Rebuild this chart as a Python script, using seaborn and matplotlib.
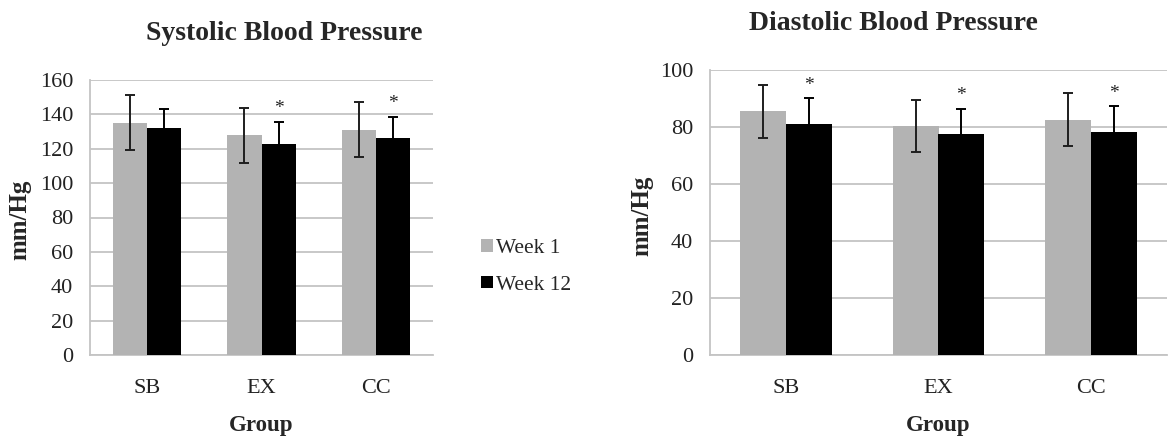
import numpy as np
import pandas as pd
import seaborn as sns
import matplotlib.pyplot as plt
from matplotlib.patches import Patch

groups = ["SB", "EX", "CC"]
weeks = ["Week 1", "Week 12"]

# systolic, mean and SD per group
sys_week1 = [135, 128, 131]
sys_week12 = [132, 123, 126]
sys_sd_week1 = [16, 16, 16]
sys_sd_week12 = [11, 12.5, 12.5]
sys_sig = [False, True, True]

# diastolic
dia_week1 = [85.6, 80.4, 82.5]
dia_week12 = [81.1, 77.4, 78.1]
dia_sd_week1 = [9.3, 9.2, 9.3]
dia_sd_week12 = [9.1, 9.0, 9.1]
dia_sig = [True, True, True]

colors = ["#b3b3b3", "#000000"]
err_colors = ["#1e1e1e", "#000000"]
grid_c = "#c4c4c4"

sns.set_style("white")
plt.rcParams["font.family"] = ["Liberation Serif", "DejaVu Serif"]


def make_df(w1, w12, sd1, sd12):
    return pd.DataFrame({
        "group": groups * 2,
        "week": [weeks[0]] * 3 + [weeks[1]] * 3,
        "mean": w1 + w12,
        "sd": sd1 + sd12,
    })


def draw_panel(ax, df, sig, ymax, step, star_off):
    sns.barplot(data=df, x="group", y="mean", hue="week", palette=colors,
                width=0.6, errorbar=None, linewidth=0, ax=ax, zorder=3)
    # error bars centred on each bar
    for cont, wk, ec in zip(ax.containers, weeks, err_colors):
        sub = df[df["week"] == wk]
        xs = [b.get_x() + b.get_width() / 2 for b in cont]
        ax.errorbar(xs, sub["mean"], yerr=sub["sd"], fmt="none",
                    ecolor=ec, elinewidth=1.4, capsize=3.5,
                    capthick=1.4, zorder=4)
        if wk == weeks[1]:
            tops = (sub["mean"] + sub["sd"]).to_numpy()
            for x, t, s in zip(xs, tops, sig):
                if s:
                    ax.text(x, t + star_off, "*", ha="center", va="center",
                            fontsize=14, color="#222222")
    ax.get_legend().remove()
    ax.set_ylim(0, ymax)
    ax.set_xlim(-0.5, 2.5)
    ax.set_yticks(np.arange(0, ymax + 1, step))
    ax.yaxis.grid(True, color=grid_c, lw=1.3)
    ax.set_axisbelow(True)
    for s in ["top", "right"]:
        ax.spines[s].set_visible(False)
    for s in ["left", "bottom"]:
        ax.spines[s].set_color(grid_c)
        ax.spines[s].set_linewidth(1.3)
    ax.tick_params(axis="y", length=3, color=grid_c, width=1.3, pad=9,
                   labelsize=16, labelcolor="#222222")
    ax.tick_params(axis="x", which="major", length=0, pad=17,
                   labelsize=16, labelcolor="#222222")
    ax.set_xticks([-0.5, 0.5, 1.5, 2.5], minor=True)
    ax.tick_params(axis="x", which="minor", length=5, color=grid_c,
                   width=1.3, direction="out")


fig = plt.figure(figsize=(11.68, 4.42), dpi=100)
ax1 = fig.add_axes([90 / 1168, 1 - 355 / 442, 343 / 1168, 275 / 442])
ax2 = fig.add_axes([710 / 1168, 1 - 355 / 442, 457 / 1168, 285 / 442])

draw_panel(ax1, make_df(sys_week1, sys_week12, sys_sd_week1, sys_sd_week12),
           sys_sig, 160, 20, 8)
draw_panel(ax2, make_df(dia_week1, dia_week12, dia_sd_week1, dia_sd_week12),
           dia_sig, 100, 20, 4.5)

fig.text(284 / 1168, 1 - 34 / 442, "Systolic Blood Pressure", ha="center",
         va="center", fontsize=20, fontweight="bold")
fig.text(893 / 1168, 1 - 24 / 442, "Diastolic Blood Pressure", ha="center",
         va="center", fontsize=20, fontweight="bold")

for ax, xl, yl in [(ax1, (20 - 90) / 343, (355 - 426) / 275),
                   (ax2, (642 - 710) / 457, (355 - 426) / 285)]:
    ax.set_ylabel("mm/Hg", fontsize=18, fontweight="bold")
    ax.yaxis.label.set_va("center")
    ax.yaxis.set_label_coords(xl, 0.49)
    ax.set_xlabel("Group", fontsize=16.5, fontweight="bold")
    ax.xaxis.label.set_va("center")
    ax.xaxis.set_label_coords(0.5, yl)

handles = [Patch(facecolor=c, edgecolor="none") for c in colors]
fig.legend(handles, weeks, loc="center left",
           bbox_to_anchor=(462 / 1168, 1 - 267 / 442), frameon=False,
           fontsize=15.4, handlelength=0.55, handleheight=0.55,
           handletextpad=0.15, labelspacing=0.8)

fig.savefig("out.png", dpi=100)
